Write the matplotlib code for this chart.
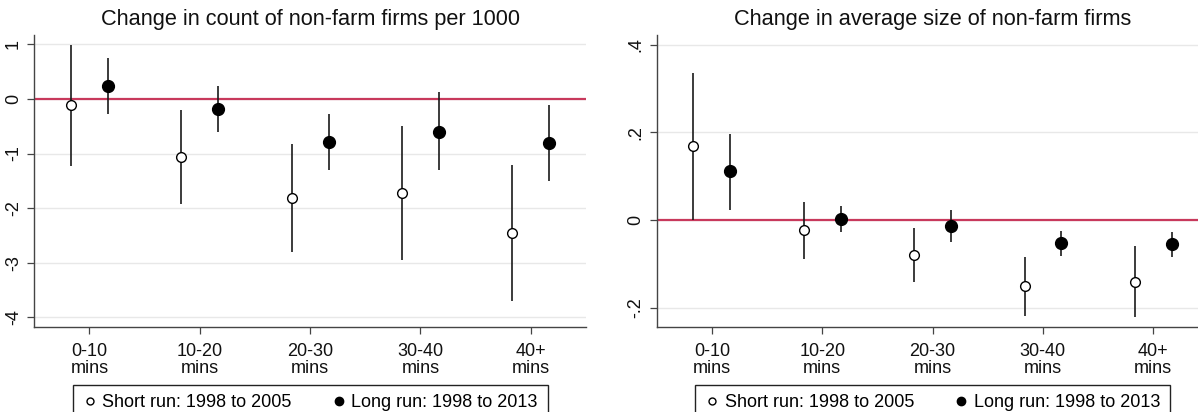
import matplotlib
matplotlib.use("Agg")
import matplotlib.pyplot as plt
from matplotlib.lines import Line2D
import numpy as np

plt.rcParams['font.family'] = ['Liberation Sans', 'DejaVu Sans']

categories = ["0-10\nmins", "10-20\nmins", "20-30\nmins", "30-40\nmins", "40+\nmins"]

# change in count of non-farm firms per 1000
count_short = [-0.12, -1.06, -1.81, -1.72, -2.45]
count_short_lo = [-1.23, -1.92, -2.80, -2.94, -3.70]
count_short_hi = [0.98, -0.21, -0.83, -0.50, -1.21]
count_long = [0.24, -0.18, -0.79, -0.60, -0.81]
count_long_lo = [-0.27, -0.60, -1.31, -1.31, -1.50]
count_long_hi = [0.75, 0.24, -0.28, 0.12, -0.12]

# change in average size of non-farm firms
size_short = [0.170, -0.023, -0.079, -0.150, -0.140]
size_short_lo = [0.000, -0.088, -0.141, -0.218, -0.222]
size_short_hi = [0.336, 0.042, -0.018, -0.084, -0.059]
size_long = [0.111, 0.002, -0.013, -0.053, -0.054]
size_long_lo = [0.024, -0.028, -0.049, -0.082, -0.083]
size_long_hi = [0.197, 0.033, 0.023, -0.025, -0.027]

count_ticks = [1, 0, -1, -2, -3, -4]
count_ticklabels = ["1", "0", "-1", "-2", "-3", "-4"]
size_ticks = [0.4, 0.2, 0, -0.2]
size_ticklabels = [".4", ".2", "0", "-.2"]

legend_labels = ["Short run: 1998 to 2005", "Long run: 1998 to 2013"]

W, H = 1198, 412
fig = plt.figure(figsize=(W / 100, H / 100), dpi=100)
ax_w = 551.7 / W
ax_h = (326.7 - 35) / H
ax_b = 1 - 326.7 / H
ax1 = fig.add_axes([34.3 / W, ax_b, ax_w, ax_h])
ax2 = fig.add_axes([656.7 / W, ax_b, ax_w, ax_h])

red = "#c8395c"


def panel(ax, title, s, slo, shi, l, llo, lhi, ticks, ticklabels, ylim):
    x = np.arange(1, len(categories) + 1)
    xs = x - 1 / 6
    xl = x + 1 / 6
    ax.axhline(0, color=red, lw=1.6, zorder=1)
    ax.vlines(xs, slo, shi, color="#1a1a1a", lw=1.2, zorder=2)
    ax.vlines(xl, llo, lhi, color="#1a1a1a", lw=1.2, zorder=2)
    ax.plot(xs, s, "o", ms=7, mfc="white", mec="black", mew=1.0, zorder=3)
    ax.plot(xl, l, "o", ms=8.5, mfc="black", mec="black", zorder=3)
    ax.set_xlim(0.5, 5.5)
    ax.set_ylim(*ylim)
    ax.set_xticks(x)
    ax.set_xticklabels(categories, fontsize=13, linespacing=0.95)
    ax.set_yticks(ticks)
    ax.set_yticklabels(ticklabels, fontsize=13, rotation=90, va="center")
    ax.yaxis.grid(True, color="#e8e8e8", lw=1.0)
    ax.set_axisbelow(True)
    for sp in ["top", "right"]:
        ax.spines[sp].set_visible(False)
    for sp in ["left", "bottom"]:
        ax.spines[sp].set_color("#444444")
        ax.spines[sp].set_linewidth(1.0)
    ax.tick_params(direction="out", length=5, width=0.9, color="#444444", labelcolor="#111111")
    ax.tick_params(axis="x", pad=7)
    ax.tick_params(axis="y", pad=4)
    ax.set_title(title, fontsize=15.7, pad=7, color="#111111")

    handles = [
        Line2D([], [], ls="", marker="o", ms=5, mfc="white", mec="black", mew=1.0),
        Line2D([], [], ls="", marker="o", ms=6, mfc="black", mec="black"),
    ]
    pos = ax.get_position()
    fig.legend(handles, legend_labels, loc="upper center", ncol=2,
               bbox_to_anchor=(pos.x0 + pos.width / 2, 1 - 384.5 / H),
               fontsize=13, frameon=True, fancybox=False, edgecolor="#222222",
               framealpha=1, borderpad=0.55, handletextpad=0.3, columnspacing=2.2,
               handlelength=0.8, borderaxespad=0)


panel(ax1, "Change in count of non-farm firms per 1000",
      count_short, count_short_lo, count_short_hi,
      count_long, count_long_lo, count_long_hi,
      count_ticks, count_ticklabels, (-4.17, 1.17))
panel(ax2, "Change in average size of non-farm firms",
      size_short, size_short_lo, size_short_hi,
      size_long, size_long_lo, size_long_hi,
      size_ticks, size_ticklabels, (-0.243, 0.422))

fig.savefig("out.png", dpi=100)
